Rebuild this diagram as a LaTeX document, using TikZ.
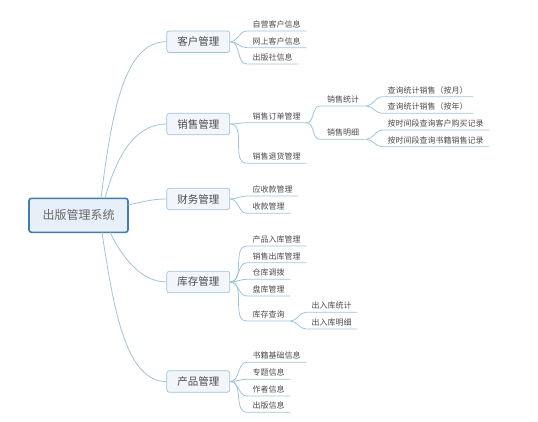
\documentclass[tikz,border=0pt]{standalone}
\usepackage{fontspec}
\newfontfamily\cjk{Noto Sans CJK SC}
\definecolor{conncol}{HTML}{9CC5DB}
\definecolor{boxborder}{HTML}{9EC4DB}
\definecolor{boxfill}{HTML}{F2F6FB}
\definecolor{rootborder}{HTML}{437DAB}
\definecolor{rootfill}{HTML}{E7EFF8}
\definecolor{txt}{HTML}{4A4A4A}
\definecolor{roottxt}{HTML}{666666}
\tikzset{
  conn/.style={draw=conncol, line width=0.8pt},
  rootbox/.style={draw=rootborder, fill=rootfill, line width=1.6pt, rounded corners=2.5pt,
    minimum width=99pt, minimum height=34pt, font=\cjk\fontsize{12}{14}\selectfont, text=roottxt},
  topicbox/.style={draw=boxborder, fill=boxfill, line width=0.7pt, rounded corners=2.5pt,
    minimum width=63pt, minimum height=21.5pt, font=\cjk\fontsize{10.5}{12}\selectfont, text=txt},
  leaf/.style={anchor=south west, inner xsep=5.5pt, inner ysep=2pt, text height=6.3pt, text depth=1.4pt,
    font=\cjk\fontsize{8}{9}\selectfont, text=txt},
  midleaf/.style={leaf, inner xsep=7pt},
  br/.style={out=0, in=180}
}
\begin{document}
\begin{tikzpicture}[x=1pt, y=-1pt]
\useasboundingbox (0,0) rectangle (538,421);

% root
\node[rootbox] (root) at (78.5,215.3) {出版管理系统};

% main topics
\node[topicbox] (k) at (198.3,41.7) {客户管理};
\node[topicbox] (s) at (198.3,124) {销售管理};
\node[topicbox] (f) at (198.3,199) {财务管理};
\node[topicbox] (c) at (198.3,282) {库存管理};
\node[topicbox] (p) at (198.3,381.5) {产品管理};

% start points on root
\coordinate (rk) at (101,198.3);
\coordinate (rs) at (105,198.3);
\coordinate (rf) at (127.5,205);
\coordinate (rc) at (110,232.3);
\coordinate (rp) at (102,232.3);

\draw[conn] (rk) .. controls +(11,-88) and +(-42,0) .. (k.west);
\draw[conn] (rs) .. controls +(12,-45) and +(-30,0) .. (s.west);
\draw[conn] (rf) .. controls +(15,-3) and +(-15,0) .. (f.west);
\draw[conn] (rc) .. controls +(12,25) and +(-25,0) .. (c.west);
\draw[conn] (rp) .. controls +(12,80) and +(-40,0) .. (p.west);

% customer
\node[leaf] (k1) at (247,31) {自营客户信息};
\node[leaf] (k2) at (247,47.7) {网上客户信息};
\node[leaf] (k3) at (247,64) {出版社信息};

% sales
\node[leaf] (s1) at (247,122.7) {销售订单管理};
\node[leaf] (s2) at (247,163.3) {销售退货管理};
\node[midleaf] (s11) at (320,106) {销售统计};
\node[midleaf] (s12) at (320,139.3) {销售明细};
\node[leaf] (s111) at (382,96.7) {查询统计销售（按月）};
\node[leaf] (s112) at (382,113.3) {查询统计销售（按年）};
\node[leaf] (s121) at (382,130) {按时间段查询客户购买记录};
\node[leaf] (s122) at (382,146.7) {按时间段查询书籍销售记录};

% finance
\node[leaf] (f1) at (247,196) {应收款管理};
\node[leaf] (f2) at (247,213.3) {收款管理};

% stock
\node[leaf] (c1) at (247,246) {产品入库管理};
\node[leaf] (c2) at (247,262.7) {销售出库管理};
\node[leaf] (c3) at (247,279.3) {仓库调拨};
\node[leaf] (c4) at (247,296) {盘库管理};
\node[leaf] (c5) at (247,321) {库存查询};
\node[leaf] (c51) at (306,312.3) {出入库统计};
\node[leaf] (c52) at (306,329) {出入库明细};

% product
\node[leaf] (p1) at (247,362.3) {书籍基础信息};
\node[leaf] (p2) at (247,379.3) {专题信息};
\node[leaf] (p3) at (247,396) {作者信息};
\node[leaf] (p4) at (247,412.3) {出版信息};

% connectors from topics
\foreach \pa/\ch in {k/k1,k/k2,k/k3,s/s1,s/s2,f/f1,f/f2,c/c1,c/c2,c/c3,c/c4,c/c5,p/p1,p/p2,p/p3,p/p4}{
  \draw[conn] (\pa.east) to[br] (\ch.south west) -- (\ch.south east);
}
% deeper connectors
\foreach \pa/\ch in {s1/s11,s1/s12,s11/s111,s11/s112,s12/s121,s12/s122,c5/c51,c5/c52}{
  \draw[conn] (\pa.south east) to[br] (\ch.south west) -- (\ch.south east);
}
\end{tikzpicture}
\end{document}
